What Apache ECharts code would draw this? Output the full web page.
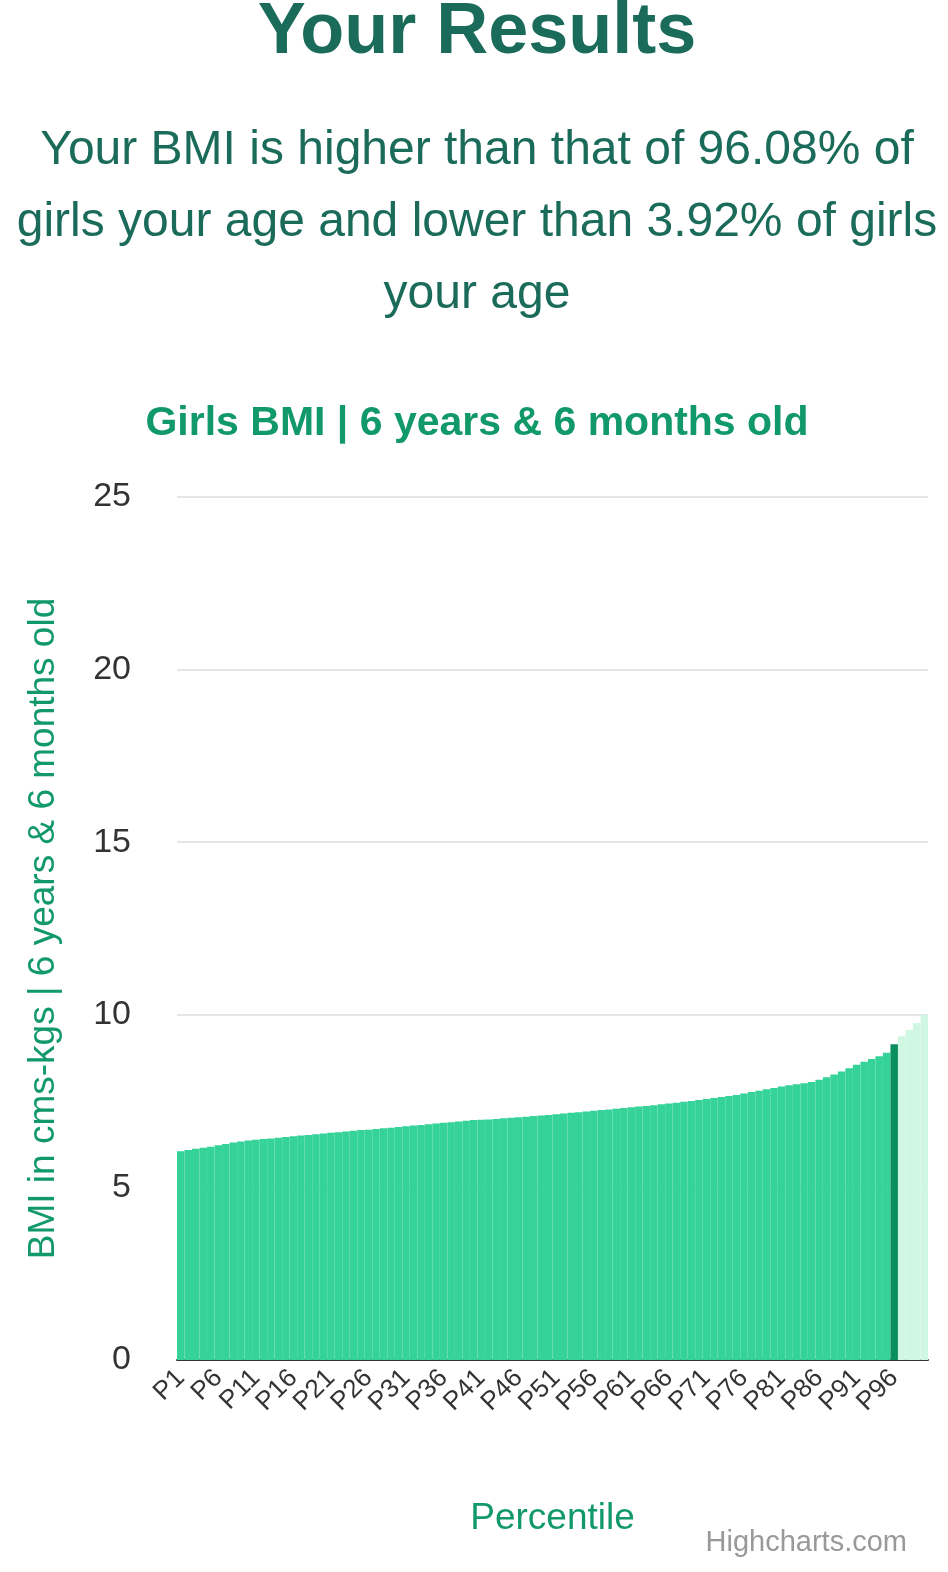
<!DOCTYPE html>
<html>
<head>
<meta charset="utf-8">
<script src="https://cdn.jsdelivr.net/npm/echarts@6/dist/echarts.min.js"></script>
<style>
  html, body { margin: 0; padding: 0; background: #fff; }
  #chart { width: 948px; height: 1572px; }
</style>
</head>
<body>
<div id="chart"></div>
<script>
// BMI per percentile, P1..P100
const bmiValues = [
  6.05, 6.08, 6.12, 6.15, 6.18, 6.22, 6.26, 6.30, 6.33, 6.36,
  6.38, 6.40, 6.42, 6.44, 6.46, 6.48, 6.50, 6.52, 6.54, 6.56,
  6.58, 6.60, 6.62, 6.64, 6.66, 6.67, 6.69, 6.71, 6.73, 6.75,
  6.77, 6.79, 6.81, 6.83, 6.85, 6.87, 6.89, 6.91, 6.93, 6.95,
  6.96, 6.97, 6.98, 7.00, 7.02, 7.03, 7.05, 7.07, 7.08, 7.10,
  7.12, 7.14, 7.16, 7.18, 7.20, 7.22, 7.24, 7.26, 7.28, 7.30,
  7.32, 7.34, 7.36, 7.38, 7.41, 7.43, 7.45, 7.48, 7.50, 7.53,
  7.56, 7.59, 7.62, 7.65, 7.68, 7.72, 7.76, 7.80, 7.84, 7.88,
  7.92, 7.96, 7.99, 8.02, 8.05, 8.12, 8.19, 8.27, 8.36, 8.45,
  8.55, 8.64, 8.72, 8.80, 8.90, 9.15, 9.38, 9.56, 9.76, 10.0
]
const percentiles = bmiValues.map((_, i) => "P" + (i + 1))
const userIndex = 95 // P96

const chart = echarts.init(document.getElementById("chart"), null, { renderer: "canvas" })

chart.setOption({
  backgroundColor: "#fff",
  textStyle: { fontFamily: "Liberation Sans, Arial, sans-serif" },
  title: [
    {
      text: "Your Results",
      left: 472, top: -8, textAlign: "center",
      textStyle: { color: "#1a6b5a", fontSize: 72, fontWeight: "bold" },
    },
    {
      text: "Your BMI is higher than that of 96.08% of\ngirls your age and lower than 3.92% of girls\nyour age",
      left: 472, top: 110, textAlign: "center",
      textStyle: { color: "#1a6b5a", fontSize: 48, fontWeight: "normal", lineHeight: 72, align: "center" },
    },
    {
      text: "Girls BMI | 6 years & 6 months old",
      left: 472, top: 398, textAlign: "center",
      textStyle: { color: "#12996a", fontSize: 41, fontWeight: "bold" },
    },
    {
      text: "Highcharts.com",
      right: 36, bottom: 10,
      textStyle: { color: "#999", fontSize: 29, fontWeight: "normal" },
    },
  ],
  grid: { left: 177, right: 20, top: 497, bottom: 212 },
  xAxis: {
    type: "category",
    data: percentiles,
    name: "Percentile",
    nameLocation: "middle",
    nameGap: 140,
    nameTextStyle: { color: "#12996a", fontSize: 37 },
    axisLine: { lineStyle: { color: "#333", width: 2 } },
    axisTick: { show: false },
    axisLabel: { interval: 4, rotate: 45, color: "#333", fontSize: 26, margin: 14 },
  },
  yAxis: {
    type: "value",
    min: 0, max: 25, interval: 5,
    name: "BMI in cms-kgs | 6 years & 6 months old",
    nameLocation: "middle",
    nameGap: 115,
    nameTextStyle: { color: "#12996a", fontSize: 37 },
    axisLine: { show: false },
    axisLabel: { color: "#333", fontSize: 34, margin: 46 },
    splitLine: { lineStyle: { color: "#e6e6e6", width: 2 } },
  },
  series: [{
    type: "bar",
    barCategoryGap: "0%",
    data: bmiValues.map((v, i) => ({
      value: v,
      itemStyle: {
        color: i === userIndex ? "#0b8f5e" : (i > userIndex ? "#d0f7e2" : "#35d399"),
      },
    })),
    silent: true,
  }],
})
</script>
</body>
</html>
